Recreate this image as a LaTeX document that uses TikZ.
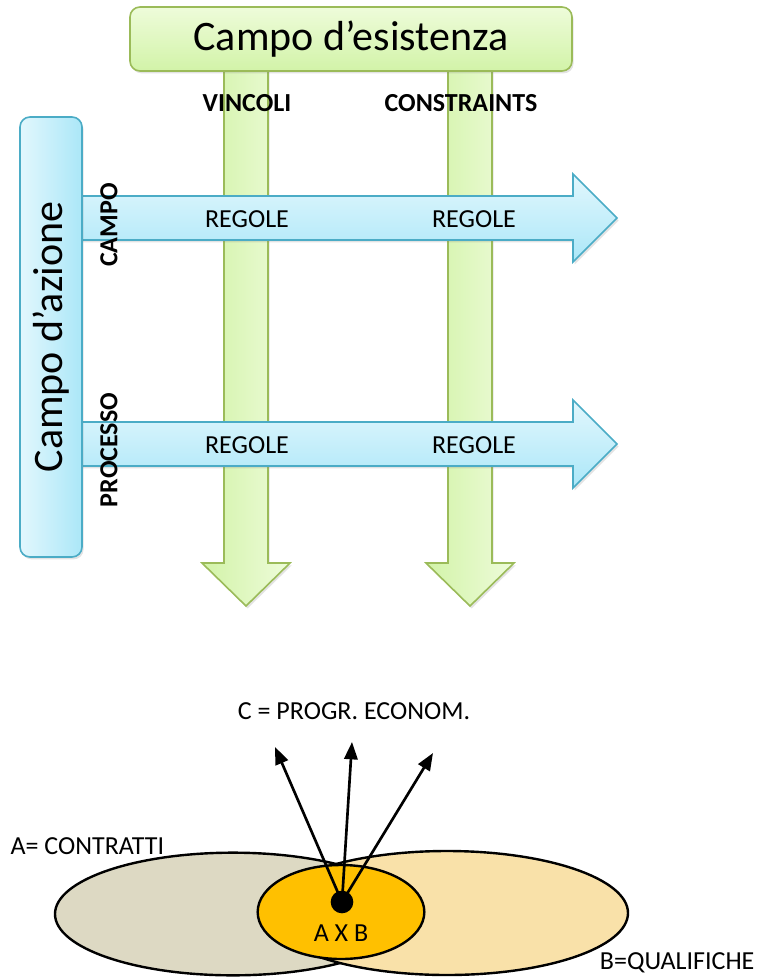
\documentclass[tikz,border=0pt]{standalone}
\usepackage{fontspec}
\setmainfont{Carlito}
\usepackage{tikz}
\usetikzlibrary{positioning,shapes.geometric,shadows,arrows.meta}

\definecolor{greenline}{HTML}{9BBB59}
\definecolor{greenlight}{HTML}{EEFCDA}
\definecolor{greendark}{HTML}{D2F3A8}
\definecolor{blueline}{HTML}{4BACC6}
\definecolor{bluelight}{HTML}{E2F7FD}
\definecolor{bluedark}{HTML}{ABE7F8}
\definecolor{setA}{HTML}{DDD9C3}
\definecolor{setB}{HTML}{F9E1A9}
\definecolor{setAB}{HTML}{FFC000}

\tikzset{
  softshadow/.style={drop shadow={shadow xshift=1.2pt, shadow yshift=-1.8pt, opacity=.22}},
  label/.style={font=\fontsize{19.5}{23}\selectfont, inner sep=1pt},
  boldlabel/.style={label, font=\fontsize{19.5}{23}\selectfont\bfseries},
  setbox/.style={ellipse, draw, line width=1.8pt, inner sep=0pt}
}

\begin{document}
\begin{tikzpicture}[x=0.75pt, y=-0.75pt]
  \useasboundingbox (0,0) rectangle (760,978);

  % Vertical arrows (green)
  \foreach \x in {246,470} {
    \draw[greenline, line width=1.2pt, left color=greendark, right color=greenlight, softshadow]
      ({\x-22},60) -- ({\x-22},563) -- ({\x-44},563) -- (\x,606)
      -- ({\x+44},563) -- ({\x+22},563) -- ({\x+22},60) -- cycle;
  }
  \node[draw=greenline, line width=1.2pt, rounded corners=7.5pt, top color=greenlight, bottom color=greendark,
        minimum width=331.5pt, minimum height=48pt, softshadow,
        font=\fontsize{31.5}{38}\selectfont] (exist) at (351,39) {Campo d’esistenza};

  % Horizontal arrows (blue)
  \foreach \y in {218,444} {
    \draw[blueline, line width=1.2pt, top color=bluelight, bottom color=bluedark, softshadow]
      (70,{\y-22}) -- (573,{\y-22}) -- (573,{\y-44}) -- (617,\y)
      -- (573,{\y+44}) -- (573,{\y+22}) -- (70,{\y+22}) -- cycle;
  }
  \node[draw=blueline, line width=1.2pt, rounded corners=7.5pt, left color=bluelight, right color=bluedark,
        minimum width=46.5pt, minimum height=330pt, softshadow] (action) at (51,337) {};
  \node[rotate=90, font=\fontsize{31.5}{38}\selectfont] (actiontext) at (action.center) {Campo d’azione};

  % Labels
  \node[boldlabel] (vinc) at (247,103) {VINCOLI};
  \node[boldlabel] (constr) at (461,103) {CONSTRAINTS};
  \node[boldlabel, rotate=90] (campo) at (109,225) {CAMPO};
  \node[boldlabel, rotate=90] (proc) at (109,450) {PROCESSO};
  \node[label] (r1) at (247,219) {REGOLE};
  \node[label] (r2) at (474,219) {REGOLE};
  \node[label] (r3) at (247,445) {REGOLE};
  \node[label] (r4) at (474,445) {REGOLE};

  % Sets
  \node[setbox, fill=setA, minimum width=267pt, minimum height=92pt] (a) at (233,914) {};
  \node[setbox, fill=setB, minimum width=271.5pt, minimum height=93pt] (b) at (447,913) {};
  \node[setbox, fill=setAB, minimum width=125pt, minimum height=70.5pt] (ab) at (341,912) {};
  \node[label] (abtext) at (341,933) {A X B};
  \node[label, anchor=west] (atext) at (9,846) {A= CONTRATTI};
  \node[label, anchor=east] (btext) at (756,963) {B=QUALIFICHE};
  \node[label] (ctext) at (354,711) {C = PROGR. ECONOM.};

  % Directions
  \node[circle, fill=black, inner sep=0pt, minimum size=17pt] (dot) at (342,902) {};
  \coordinate (c1) at (275,747);
  \coordinate (c2) at (352,742);
  \coordinate (c3) at (433,753);
  \foreach \c in {c1,c2,c3}
    \draw[line width=2pt, -{Triangle[length=13pt, width=10pt]}] (dot.center) -- (\c);
\end{tikzpicture}
\end{document}
